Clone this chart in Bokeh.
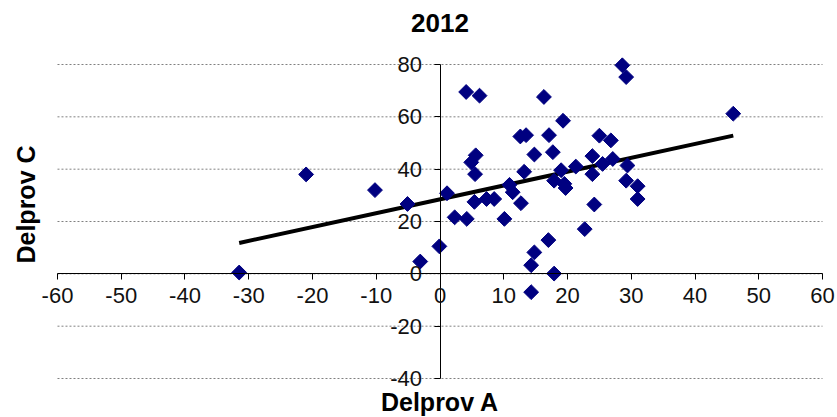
import numpy as np
from bokeh.plotting import figure
from bokeh.models import FixedTicker, Label, Range1d
from bokeh.embed import file_html
from bokeh.resources import INLINE

# Data
delprov_a = [-31.5, -21.0, -10.2, -5.1, -3.1, -0.1, 1.1, 2.3, 4.2, 4.1, 6.2, 4.9, 5.6,
             5.5, 5.4, 7.3, 8.5, 10.1, 10.9, 11.4, 12.7, 12.6, 13.5, 13.2, 14.8, 14.8,
             14.3, 14.3, 16.3, 17.1, 17.7, 17.0, 17.9, 19.3, 19.0, 17.9, 19.5, 19.7,
             21.3, 22.7, 24.2, 23.9, 23.9, 25.0, 26.8, 25.5, 27.1, 28.6, 29.2, 29.4,
             29.2, 31.0, 31.0, 46.0]
delprov_c = [0.5, 38.0, 32.0, 26.7, 4.7, 10.5, 30.8, 21.6, 21.0, 69.5, 68.1, 42.6, 45.3,
             38.1, 27.5, 28.6, 28.6, 21.0, 34.0, 31.2, 27.0, 52.5, 53.0, 39.0, 45.6, 8.2,
             3.3, -7.0, 67.6, 53.0, 46.5, 12.9, 0.1, 58.5, 39.6, 35.6, 34.4, 32.8,
             41.0, 17.1, 26.5, 45.0, 38.1, 52.8, 51.0, 42.0, 43.9, 79.7, 75.2, 41.4,
             35.6, 33.5, 28.6, 61.2]

title_text = "2012"
x_label = "Delprov A"
y_label = "Delprov C"
x_ticks = [-60, -50, -40, -30, -20, -10, 0, 10, 20, 30, 40, 50, 60]
y_ticks = [-40, -20, 0, 20, 40, 60, 80]

NAVY = "#000080"
FONT = "Liberation Sans"

# The frame covers the whole canvas; the chart area (-60..60, -40..80) sits inside it
p = figure(width=837, height=417, output_backend="svg", toolbar_location=None,
           x_range=Range1d(-68.94, 62.35), y_range=Range1d(-54.90, 104.46),
           min_border=0, min_border_left=0, min_border_right=0,
           min_border_top=0, min_border_bottom=0)
p.outline_line_color = None
p.background_fill_color = "white"
p.border_fill_color = "white"
p.xgrid.visible = False
p.ygrid.visible = False

# dotted horizontal gridlines across the chart area
p.segment(x0=x_ticks[0], x1=x_ticks[-1], y0=y_ticks, y1=y_ticks,
          line_color="#808080", line_dash="2 2", line_width=1)

# axes crossing at origin
for ax, ticks in ((p.xaxis[0], x_ticks), (p.yaxis[0], y_ticks)):
    ax.fixed_location = 0
    ax.ticker = FixedTicker(ticks=ticks)
    ax.bounds = (ticks[0], ticks[-1])
    ax.axis_line_color = "black"
    ax.major_tick_line_color = "black"
    ax.major_tick_out = 6
    ax.major_tick_in = 0
    ax.minor_tick_line_color = None
    ax.major_label_text_alpha = 0

for t in x_ticks:
    p.add_layout(Label(x=t, y=0, text=str(t), text_align="center", text_baseline="top",
                       y_offset=-14, text_font=FONT, text_font_size="22px",
                       text_color="#111111"))
for t in y_ticks:
    p.add_layout(Label(x=0, y=t, text=str(t), text_align="right", text_baseline="middle",
                       x_offset=-18, text_font=FONT, text_font_size="22px",
                       text_color="#111111"))

# titles
p.add_layout(Label(x=0, y=96, text=title_text, text_align="center", text_baseline="middle",
                   text_font=FONT, text_font_size="26px", text_font_style="bold",
                   text_color="black"))
p.add_layout(Label(x=0, y=-48.8, text=x_label, text_align="center", text_baseline="middle",
                   text_font=FONT, text_font_size="25px", text_font_style="bold",
                   text_color="black"))
p.add_layout(Label(x=-64.9, y=26.5, text=y_label, text_align="center", text_baseline="middle",
                   angle=np.pi / 2, text_font=FONT, text_font_size="25px",
                   text_font_style="bold", text_color="black"))

# trend line (least squares fit of the points)
xa = np.array(delprov_a)
ya = np.array(delprov_c)
k, m = np.polyfit(xa, ya, 1)
xs = np.array([xa.min(), xa.max()])
p.line(xs, k * xs + m, line_color="black", line_width=4)

p.scatter(delprov_a, delprov_c, marker="square", angle=np.pi / 4, size=10.5,
          fill_color=NAVY, line_color=NAVY, line_width=1)

open("out.html", "w").write(file_html(p, INLINE))
